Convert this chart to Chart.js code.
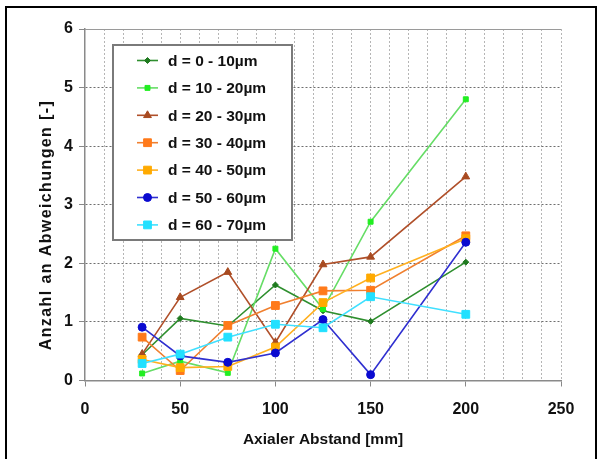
<!DOCTYPE html>
<html><head><meta charset="utf-8">
<script src="https://cdn.jsdelivr.net/npm/chart.js@4/dist/chart.umd.min.js"></script>
<style>
html,body{margin:0;padding:0;background:#fff;}
#wrap{position:relative;width:598px;height:459px;overflow:hidden;background:#fff;}
#frame{position:absolute;left:5px;top:6px;width:592px;height:480px;border:2px solid #000;box-sizing:border-box;}
canvas{position:absolute;left:0;top:0;}
</style></head><body>
<div id="wrap"><div id="frame"></div><canvas id="c" width="598" height="459"></canvas></div>
<script>
const xValues = [30, 50, 75, 100, 125, 150, 200];
const seriesLabels = ['d = 0 - 10µm','d = 10 - 20µm','d = 20 - 30µm','d = 30 - 40µm','d = 40 - 50µm','d = 50 - 60µm','d = 60 - 70µm'];
const d0_10  = [0.44, 1.06, 0.93, 1.63, 1.19, 1.01, 2.02];
const d10_20 = [0.12, 0.33, 0.13, 2.25, 1.22, 2.71, 4.80];
const d20_30 = [0.45, 1.42, 1.85, 0.65, 1.98, 2.11, 3.48];
const d30_40 = [0.74, 0.17, 0.94, 1.28, 1.53, 1.54, 2.47];
const d40_50 = [0.36, 0.22, 0.24, 0.57, 1.33, 1.75, 2.42];
const d50_60 = [0.91, 0.42, 0.31, 0.47, 1.04, 0.10, 2.36];
const d60_70 = [0.29, 0.45, 0.74, 0.96, 0.90, 1.43, 1.13];
const yTicks = [0, 1, 2, 3, 4, 5, 6];
const xTicks = [0, 50, 100, 150, 200, 250];

const styles = [
  {line:'#2f8f2f', fill:'#1f7a1f', ps:'rectRot', r:3},
  {line:'#66dd66', fill:'#22ee22', ps:'rect', r:3.5},
  {line:'#b0502a', fill:'#a84a20', ps:'triangle', r:4.5},
  {line:'#f08030', fill:'#ff7a1a', ps:'rect', r:5.5},
  {line:'#ffb020', fill:'#ffaa00', ps:'rect', r:5.5},
  {line:'#3030d0', fill:'#0a0ad0', ps:'circle', r:4},
  {line:'#40e0ff', fill:'#22e0ff', ps:'rect', r:5.5}
];
const allSeries = [d0_10, d10_20, d20_30, d30_40, d40_50, d50_60, d60_70];
const FONT = "'Liberation Sans',Arial,sans-serif";

const datasets = allSeries.map((vals, i) => ({
  label: seriesLabels[i],
  data: xValues.map((x, j) => ({x: x, y: vals[j]})),
  borderColor: styles[i].line,
  backgroundColor: styles[i].fill,
  pointBackgroundColor: styles[i].fill,
  pointBorderColor: styles[i].fill,
  pointStyle: styles[i].ps,
  pointRadius: styles[i].r,
  pointBorderWidth: 1,
  borderWidth: 1.6,
  tension: 0,
  order: 10 - i
}));

const legendPlugin = {
  id: 'boxLegend',
  afterDatasetsDraw(chart) {
    const ctx = chart.ctx;
    ctx.save();
    const bx = 113, by = 45, bw = 179, bh = 195;
    ctx.fillStyle = '#fff';
    ctx.fillRect(bx, by, bw, bh);
    ctx.strokeStyle = '#7a7a7a';
    ctx.lineWidth = 2;
    ctx.strokeRect(bx, by, bw, bh);
    chart.data.datasets.forEach((ds, i) => {
      const y = 60.5 + i * 27.4;
      ctx.strokeStyle = ds.borderColor;
      ctx.lineWidth = 1.6;
      ctx.beginPath(); ctx.moveTo(137, y); ctx.lineTo(158, y); ctx.stroke();
      ctx.fillStyle = ds.pointBackgroundColor;
      ctx.strokeStyle = ds.pointBorderColor;
      ctx.lineWidth = 1;
      Chart.helpers.drawPoint(ctx, {pointStyle: ds.pointStyle, radius: ds.pointRadius, rotation: 0, borderWidth: 1}, 147.5, y);
      ctx.fillStyle = '#111';
      ctx.font = "bold 15.5px " + FONT;
      ctx.textBaseline = 'middle';
      ctx.textAlign = 'left';
      ctx.fillText(ds.label, 168, y + 1);
    });
    ctx.restore();
  }
};

const framePlugin = {
  id: 'extras',
  beforeDatasetsDraw(chart) {
    const {ctx, chartArea} = chart;
    ctx.save();
    ctx.strokeStyle = '#9a9a9a';
    ctx.lineWidth = 1;
    ctx.beginPath();
    ctx.moveTo(chartArea.left, chartArea.top + 0.5);
    ctx.lineTo(chartArea.right, chartArea.top + 0.5);
    ctx.stroke();
    ctx.restore();
  },
  afterDraw(chart) {
    const ctx = chart.ctx;
    ctx.save();
    ctx.translate(47, 225);
    ctx.rotate(-Math.PI / 2);
    ctx.font = "bold 16px " + FONT;
    try { ctx.letterSpacing = '1.4px'; } catch (e) {}
    ctx.fillStyle = '#111';
    ctx.textAlign = 'center';
    ctx.textBaseline = 'middle';
    ctx.fillText('Anzahl an Abweichungen [-]', 0, 0);
    ctx.restore();
  }
};

new Chart(document.getElementById('c'), {
  type: 'line',
  data: { datasets },
  plugins: [legendPlugin, framePlugin],
  options: {
    responsive: false,
    animation: false,
    events: [],
    layout: { padding: { left: 0, top: 29, right: 37, bottom: 0 } },
    plugins: { legend: { display: false }, tooltip: { enabled: false }, title: { display: false } },
    scales: {
      x: {
        type: 'linear', min: 0, max: 250,
        afterFit(scale) { scale.height = 78.5; },
        afterBuildTicks(scale) {
          const t = [];
          for (let v = 0; v <= 250; v += 10) t.push({value: v});
          scale.ticks = t;
        },
        ticks: {
          autoSkip: false, maxRotation: 0, padding: 13,
          color: '#111',
          font: { family: FONT, size: 16, weight: 'bold' },
          callback: (v) => xTicks.includes(v) ? String(v) : ''
        },
        grid: {
          color: (c) => c.tick && c.tick.value === 0 ? 'transparent' : '#b5b5b5',
          lineWidth: 1,
          tickLength: 6,
          tickColor: (c) => c.tick && xTicks.includes(c.tick.value) ? '#888' : 'transparent'
        },
        border: { display: true, color: '#8a8a8a', width: 1.5, dash: [2, 2] },
        title: {
          display: true, text: 'Axialer Abstand [mm]', color: '#111',
          font: { family: FONT, size: 15.5, weight: 'bold' },
          padding: { top: 0, bottom: 10 }
        }
      },
      y: {
        min: 0, max: 6,
        afterFit(scale) { scale.width = 85; },
        afterBuildTicks(scale) { scale.ticks = yTicks.map(v => ({value: v})); },
        ticks: {
          padding: 6, color: '#111',
          font: { family: FONT, size: 16, weight: 'bold' }
        },
        grid: {
          color: (c) => c.tick && (c.tick.value === 0 || c.tick.value === 6) ? 'transparent' : '#6e6e6e',
          lineWidth: 1,
          tickLength: 6,
          tickColor: '#888'
        },
        border: { display: true, color: '#8a8a8a', width: 1.5, dash: [2, 2] }
      }
    }
  }
});
</script>
</body></html>
